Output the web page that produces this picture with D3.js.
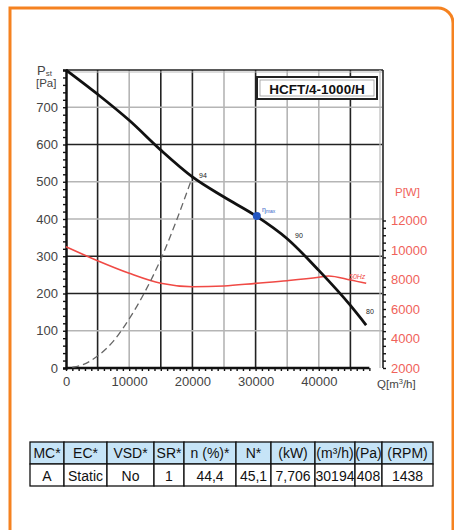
<!DOCTYPE html>
<html>
<head>
<meta charset="utf-8">
<script src="https://cdn.jsdelivr.net/npm/d3@7"></script>
<style>
  body { margin: 0; background: #fff; }
  text { font-family: "Liberation Sans", Arial, sans-serif; }
</style>
</head>
<body>
<div class="chart"></div>
<script>
// pressure curve Pst [Pa] vs Q [m3/h]
var pressureQ = [0, 5000, 10000, 15000, 20000, 25000, 30000, 35000, 40000, 45000, 47500];
var pressureP = [800, 735, 665, 585, 513, 459, 409, 347, 262, 168, 115];

// system curve (dashed)
var systemQ = [1000, 2500, 5000, 7500, 10000, 12500, 15000, 17500, 20000];
var systemP = [2, 8, 32, 72, 132, 205, 292, 397, 513];

// power curve P [W]
var powerQ = [0, 5000, 10000, 15000, 20000, 25000, 30000, 35000, 40000, 41500, 45000, 47500];
var powerW = [10220, 9270, 8420, 7740, 7510, 7560, 7740, 7920, 8150, 8240, 7970, 7740];

var xTicks = [0, 10000, 20000, 30000, 40000];
var yTicks = [0, 100, 200, 300, 400, 500, 600, 700];
var wTicks = [2000, 4000, 6000, 8000, 10000, 12000];

// grid lines: value and whether drawn dark
var vGrid = [5000, 10000, 15000, 20000, 25000, 30000, 35000, 40000, 45000];
var vGridDark = [true, false, true, true, false, true, false, false, true];
var hGrid = [100, 200, 300, 400, 500, 600, 700];
var hGridDark = [false, true, true, false, false, true, false];

var dutyQ = 30194;
var dutyP = 408;

var tableHeaders = ['MC*', 'EC*', 'VSD*', 'SR*', 'n (%)*', 'N*', '(kW)', '(m³/h)', '(Pa)', '(RPM)'];
var tableValues = ['A', 'Static', 'No', '1', '44,4', '45,1', '7,706', '30194', '408', '1438'];
var colEdges = [30, 64, 107, 154, 184, 236, 271, 315, 355, 382, 433];

var svg = d3.select('.chart').append('svg')
  .attr('width', 454)
  .attr('height', 530);

// orange frame
svg.append('path')
  .attr('d', 'M10,545 L10,8 L438,8 A15,15 0 0 1 453,23 L453,545')
  .attr('fill', 'none')
  .attr('stroke', '#f58220')
  .attr('stroke-width', 3);

var x = d3.scaleLinear().domain([0, 50000]).range([66, 382]);
var y = d3.scaleLinear().domain([0, 800]).range([368, 70]);
var yW = d3.scaleLinear().domain([2000, 12000]).range([368, 220.5]);

// grid
svg.selectAll('.vgrid').data(vGrid).enter().append('line')
  .attr('x1', d => x(d)).attr('x2', d => x(d))
  .attr('y1', y(800)).attr('y2', y(0))
  .attr('stroke', (d, i) => vGridDark[i] ? '#222' : '#b5b5b5')
  .attr('stroke-width', 1.6);

svg.selectAll('.hgrid').data(hGrid).enter().append('line')
  .attr('x1', x(0)).attr('x2', x(50000))
  .attr('y1', d => y(d)).attr('y2', d => y(d))
  .attr('stroke', (d, i) => hGridDark[i] ? '#222' : '#b5b5b5')
  .attr('stroke-width', 1.6);

// plot frame top / right (double line)
svg.append('line').attr('x1', x(0)).attr('x2', x(50000)).attr('y1', 72).attr('y2', 72)
  .attr('stroke', '#bbb').attr('stroke-width', 1.2);
svg.append('line').attr('x1', x(0)).attr('x2', x(50000) + 1).attr('y1', 70).attr('y2', 70)
  .attr('stroke', '#222').attr('stroke-width', 1.6);
svg.append('line').attr('x1', x(50000) - 2).attr('x2', x(50000) - 2).attr('y1', 70).attr('y2', 368)
  .attr('stroke', '#bbb').attr('stroke-width', 1.2);
svg.append('line').attr('x1', x(50000) + 1).attr('x2', x(50000) + 1).attr('y1', 70).attr('y2', 368)
  .attr('stroke', '#222').attr('stroke-width', 1.6);

// left axis: minor ticks + labels
var leftMinor = svg.append('g')
  .attr('transform', `translate(${x(0)},0)`)
  .call(d3.axisLeft(y).tickValues(d3.range(0, 801, 20)).tickSize(3).tickFormat(''));
leftMinor.select('.domain').attr('stroke', '#111').attr('stroke-width', 2.5);
leftMinor.selectAll('.tick line').attr('stroke', '#111').attr('stroke-width', 1.4);

var leftAxis = svg.append('g')
  .attr('transform', `translate(${x(0)},0)`)
  .call(d3.axisLeft(y).tickValues(yTicks).tickSize(0).tickPadding(8));
leftAxis.select('.domain').remove();
leftAxis.selectAll('text').attr('font-size', 13).attr('fill', '#444')
  .attr('font-family', '"Liberation Sans", Arial, sans-serif');

// bottom axis
var bottomMinor = svg.append('g')
  .attr('transform', `translate(0,${y(0)})`)
  .call(d3.axisBottom(x).tickValues(d3.range(0, 48001, 1000)).tickSize(3).tickFormat(''));
bottomMinor.select('.domain').attr('d', `M${x(0)},0H${x(48000)}`)
  .attr('stroke', '#111').attr('stroke-width', 2.5);
bottomMinor.selectAll('.tick line').attr('stroke', '#111').attr('stroke-width', 1.4);

var bottomAxis = svg.append('g')
  .attr('transform', `translate(0,${y(0)})`)
  .call(d3.axisBottom(x).tickValues(xTicks).tickSize(0).tickPadding(9).tickFormat(d3.format('d')));
bottomAxis.select('.domain').remove();
bottomAxis.selectAll('text').attr('font-size', 13).attr('fill', '#444')
  .attr('font-family', '"Liberation Sans", Arial, sans-serif');

// right axis (power)
var rightMinor = svg.append('g')
  .attr('transform', `translate(${x(50000) + 1},0)`)
  .call(d3.axisRight(yW).tickValues(d3.range(2000, 12001, 500)).tickSize(3).tickFormat(''));
rightMinor.select('.domain').remove();
rightMinor.selectAll('.tick line').attr('stroke', '#111').attr('stroke-width', 1.4);

var rightAxis = svg.append('g')
  .attr('transform', `translate(${x(50000) + 1},0)`)
  .call(d3.axisRight(yW).tickValues(wTicks).tickSize(0).tickPadding(8).tickFormat(d3.format('d')));
rightAxis.select('.domain').remove();
rightAxis.selectAll('text').attr('font-size', 13).attr('fill', '#f0625a')
  .attr('font-family', '"Liberation Sans", Arial, sans-serif');

// axis titles
svg.append('text').attr('x', 37).attr('y', 75).attr('font-size', 13).attr('fill', '#444')
  .text('P').append('tspan').attr('font-size', 8).attr('dy', 1).text('st');
svg.append('text').attr('x', 36).attr('y', 87).attr('font-size', 11.5).attr('fill', '#444').text('[Pa]');
svg.append('text').attr('x', 377).attr('y', 388).attr('font-size', 11.5).attr('fill', '#444')
  .text('Q[m').append('tspan').attr('font-size', 7.5).attr('dy', -4).text('3')
  .select(function() { return this.parentNode; })
  .append('tspan').attr('dy', 4).text('/h]');
svg.append('text').attr('x', 395).attr('y', 196).attr('font-size', 11.5).attr('fill', '#f0625a')
  .text('P[W]');

// title box
svg.append('rect').attr('x', 257).attr('y', 77).attr('width', 120).attr('height', 22)
  .attr('fill', '#fff').attr('stroke', '#222').attr('stroke-width', 2);
svg.append('rect').attr('x', 260).attr('y', 80).attr('width', 114).attr('height', 16)
  .attr('fill', 'none').attr('stroke', '#999').attr('stroke-width', 0.8);
svg.append('text').attr('x', 317).attr('y', 93.5).attr('text-anchor', 'middle')
  .attr('font-size', 13.5).attr('font-weight', 'bold').attr('fill', '#111')
  .text('HCFT/4-1000/H');

// curves
var line = d3.line().curve(d3.curveMonotoneX);

svg.append('path')
  .attr('d', line(powerQ.map((q, i) => [x(q), yW(powerW[i])])))
  .attr('fill', 'none').attr('stroke', '#f04a45').attr('stroke-width', 1.6);

svg.append('path')
  .attr('d', line(systemQ.map((q, i) => [x(q), y(systemP[i])])))
  .attr('fill', 'none').attr('stroke', '#666').attr('stroke-width', 1.3)
  .attr('stroke-dasharray', '7,4');

svg.append('path')
  .attr('d', line(pressureQ.map((q, i) => [x(q), y(pressureP[i])])))
  .attr('fill', 'none').attr('stroke', '#111').attr('stroke-width', 2.8);

svg.append('circle').attr('cx', x(dutyQ)).attr('cy', y(dutyP)).attr('r', 4)
  .attr('fill', '#2456c0');

// small annotations
svg.append('text').attr('x', 199).attr('y', 178).attr('font-size', 7).attr('fill', '#222').text('94');
svg.append('text').attr('x', 262).attr('y', 212).attr('font-size', 7).attr('fill', '#3a66c8')
  .text('η').append('tspan').attr('font-size', 5).attr('dy', 1).text('max');
svg.append('text').attr('x', 295).attr('y', 238).attr('font-size', 7).attr('fill', '#222').text('90');
svg.append('text').attr('x', 366).attr('y', 314).attr('font-size', 7).attr('fill', '#222').text('80');
svg.append('text').attr('x', 349).attr('y', 279).attr('font-size', 7).attr('fill', '#f04a45')
  .attr('font-style', 'italic').text('50Hz');

// table
var rowTop = 442, rowH = 22;
var cols = tableHeaders.map((h, i) => ({ h: h, v: tableValues[i], x0: colEdges[i], x1: colEdges[i + 1] }));
var table = svg.append('g');
table.selectAll('.hcell').data(cols).enter().append('rect')
  .attr('x', d => d.x0).attr('y', rowTop).attr('width', d => d.x1 - d.x0).attr('height', rowH)
  .attr('fill', '#c6e4f7').attr('stroke', '#111').attr('stroke-width', 1.3);
table.selectAll('.vcell').data(cols).enter().append('rect')
  .attr('x', d => d.x0).attr('y', rowTop + rowH).attr('width', d => d.x1 - d.x0).attr('height', rowH)
  .attr('fill', '#fff').attr('stroke', '#111').attr('stroke-width', 1.3);
table.selectAll('.htext').data(cols).enter().append('text')
  .attr('x', d => (d.x0 + d.x1) / 2).attr('y', rowTop + 16).attr('text-anchor', 'middle')
  .attr('font-size', 14).attr('fill', '#111')
  .text(d => d.h);
table.selectAll('.vtext').data(cols).enter().append('text')
  .attr('x', d => (d.x0 + d.x1) / 2).attr('y', rowTop + rowH + 16.5).attr('text-anchor', 'middle')
  .attr('font-size', 14).attr('fill', '#111')
  .text(d => d.v);
</script>
</body>
</html>
